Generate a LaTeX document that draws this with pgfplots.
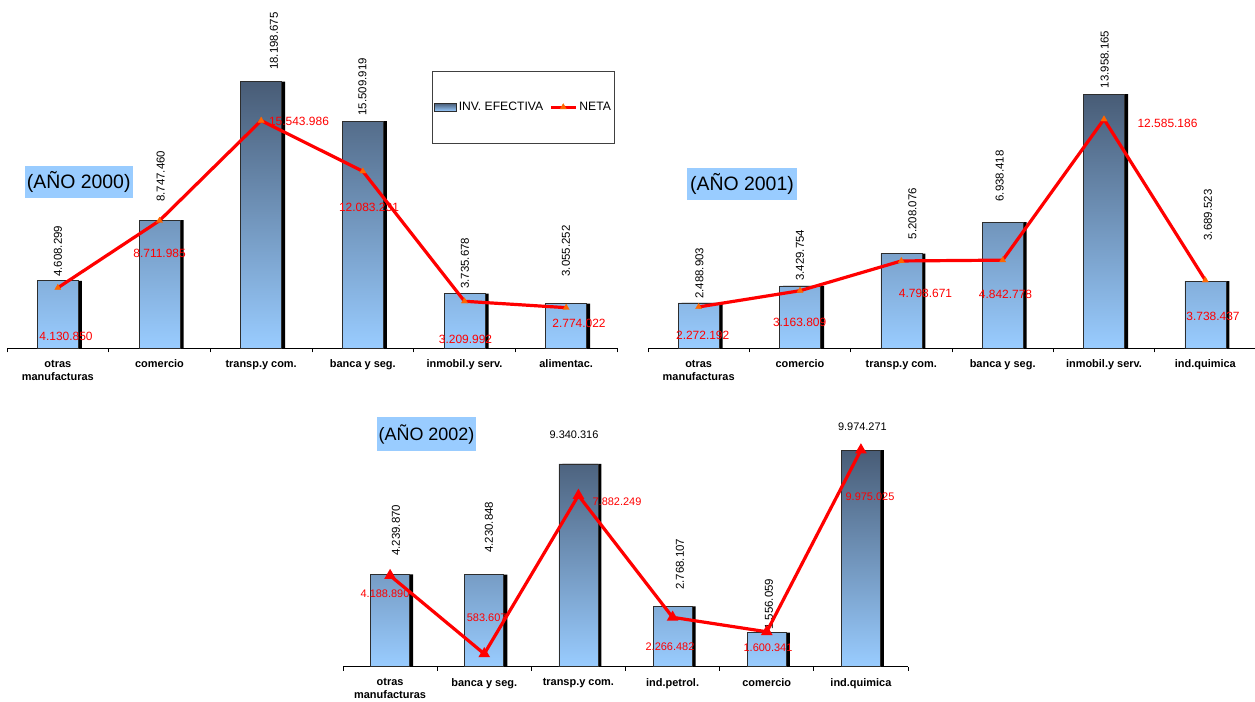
\documentclass[border=0pt]{standalone}
\usepackage{pgfplots}
\pgfplotsset{compat=1.18}
\usepackage{fontspec}
\setmainfont{Liberation Sans}

\definecolor{bartop}{RGB}{72,92,118}
\definecolor{barbot}{RGB}{153,204,255}
\definecolor{barline}{RGB}{45,45,45}
\definecolor{yearblue}{RGB}{153,204,255}
\definecolor{neta}{RGB}{255,0,0}
\definecolor{mk}{RGB}{255,102,0}

\pgfplotsset{
  panel/.style={
    scale only axis, clip=false, enlargelimits=false,
    xmin=-0.5, xmax=5.5, ymin=0,
    axis x line*=bottom, axis y line=none,
    axis line style={black, line width=1.2bp},
    tick align=outside,
    xtick={0,...,5}, major tick length=0pt,
    extra x ticks={-0.5,0.5,1.5,2.5,3.5,4.5,5.5}, extra x tick labels={},
    extra x tick style={major tick length=4bp, tick style={black, line width=0.9bp}},
    xticklabel style={font=\fontsize{11}{13}\selectfont\bfseries, align=center, anchor=north, inner sep=0pt, yshift=-11.5bp},
    ytick=\empty,
  },
  shadowbar/.style={ybar, bar width=#1, bar shift=3.5bp, fill=black, draw=none, forget plot},
  mainbar/.style={ybar, bar width=#1, bar shift=0pt, draw=barline, line width=0.6bp, top color=bartop, bottom color=barbot, area legend},
  netline/.style={color=neta, line width=3.2bp, mark=triangle*, mark size=3.6bp, mark options={fill=mk, draw=mk, line width=0.3bp, solid}},
  barlegend/.style={legend image code/.code={\draw[top color=bartop,bottom color=barbot,draw=barline,line width=0.7bp] (0bp,-4bp) rectangle (22bp,4bp);}},
  netlegend/.style={legend image code/.code={\draw[mark repeat=2,mark phase=2,##1] plot coordinates {(0bp,0bp) (12.5bp,0bp) (25bp,0bp)};}},
}
\tikzset{
  blab/.style={rotate=90, anchor=west, inner sep=0pt, font=\fontsize{11.5}{13}\selectfont},
  hlab/.style={inner sep=0pt, font=\fontsize{11}{13}\selectfont},
  rlab/.style={text=neta, inner sep=0pt, font=\fontsize{12}{14}\selectfont},
}
\newcommand{\BL}[3]{\node[blab] at ([shift={({(#1-\xo)*1bp},{(\yo-#2)*1bp})}]rel axis cs:0,0) {#3};}
\newcommand{\HL}[3]{\node[hlab] at ([shift={({(#1-\xo)*1bp},{(\yo-#2)*1bp})}]rel axis cs:0,0) {#3};}
\newcommand{\RL}[3]{\node[rlab] at ([shift={({(#1-\xo)*1bp},{(\yo-#2)*1bp})}]rel axis cs:0,0) {#3};}

\begin{document}
\begin{tikzpicture}
\useasboundingbox (0,0) rectangle (1255bp,702bp);

% ---------------- 2000 ----------------
\def\xo{7}\def\yo{348.3}
\begin{axis}[panel, at={(7bp,353.7bp)}, anchor=south west,
  width=610bp, height=348.3bp, ymax=23.775e6,
  xticklabels={{otras\\manufacturas},comercio,transp.y com.,banca y seg.,inmobil.y serv.,alimentac.},
  legend columns=2,
  legend style={at={(0.696,0.797)}, anchor=north west, draw=black!75, line width=1bp,
    inner xsep=2bp, inner ysep=29bp, font=\fontsize{12.2}{14}\selectfont,
    /tikz/every even column/.append style={column sep=4bp}, cells={anchor=west}},
]
\addplot[shadowbar=41bp] coordinates {(0,4608299) (1,8747460) (2,18198675) (3,15509919) (4,3735678) (5,3055252)};
\addplot[mainbar=41bp, barlegend]
  coordinates {(0,4608299) (1,8747460) (2,18198675) (3,15509919) (4,3735678) (5,3055252)};
\addlegendentry{INV. EFECTIVA}
\RL{66}{336}{4.130.850}
\RL{159.6}{253}{8.711.985}
\RL{299}{121.7}{15.543.986}
\RL{369}{207}{12.083.231}
\RL{465.5}{339}{3.209.992}
\RL{579}{323}{2.774.022}
\BL{58}{277}{4.608.299}
\BL{160.6}{202}{8.747.460}
\BL{274}{70}{18.198.675}
\BL{362.5}{115.7}{15.509.919}
\BL{465}{289}{3.735.678}
\BL{566}{276.7}{3.055.252}
\addplot[netline, netlegend]
  coordinates {(0,4130850) (1,8711985) (2,15543986) (3,12083231) (4,3209992) (5,2774022)};
\addlegendentry{NETA}
\end{axis}

% ---------------- 2001 ----------------
\def\xo{648}\def\yo{348.3}
\begin{axis}[panel, at={(648bp,353.7bp)}, anchor=south west,
  width=608bp, height=348.3bp, ymax=19.137e6,
  xticklabels={{otras\\manufacturas},comercio,transp.y com.,banca y seg.,inmobil.y serv.,ind.quimica},
]
\addplot[shadowbar=41bp] coordinates {(0,2488903) (1,3429754) (2,5208076) (3,6938418) (4,13958165) (5,3689523)};
\addplot[mainbar=41bp] coordinates {(0,2488903) (1,3429754) (2,5208076) (3,6938418) (4,13958165) (5,3689523)};
\RL{702.7}{335}{2.272.192}
\RL{799.6}{322.7}{3.163.809}
\RL{925.5}{293.3}{4.798.671}
\RL{1005.5}{294.7}{4.842.778}
\RL{1167.5}{123}{12.585.186}
\RL{1213}{316.7}{3.738.437}
\BL{699.3}{299}{2.488.903}
\BL{800}{281}{3.429.754}
\BL{912.5}{239.3}{5.208.076}
\BL{999.6}{201.7}{6.938.418}
\BL{1104.7}{88.3}{13.958.165}
\BL{1207.8}{240.7}{3.689.523}
\addplot[netline] coordinates {(0,2272192) (1,3163809) (2,4798671) (3,4842778) (4,12585186) (5,3738437)};
\end{axis}

% ---------------- 2002 ----------------
\def\xo{343}\def\yo{666.5}
\tikzset{rlab/.append style={font=\fontsize{11}{13}\selectfont}}
\begin{axis}[panel, at={(343bp,35.5bp)}, anchor=south west,
  width=565bp, height=266.5bp, ymax=12.281e6,
  xticklabels={{otras\\manufacturas},banca y seg.,transp.y com.,ind.petrol.,comercio,ind.quimica},
]
\addplot[shadowbar=39bp] coordinates {(0,4239870) (1,4230848) (2,9340316) (3,2768107) (4,1556059) (5,9974271)};
\addplot[mainbar=39bp] coordinates {(0,4239870) (1,4230848) (2,9340316) (3,2768107) (4,1556059) (5,9974271)};
\RL{385}{594}{4.188.890}
\RL{486.7}{618}{583.607}
\RL{617}{502}{7.882.249}
\RL{670}{647}{2.266.482}
\RL{768}{648}{1.600.341}
\RL{870}{497}{9.975.025}
\BL{396}{556}{4.239.870}
\BL{489}{553}{4.230.848}
\HL{574}{435}{9.340.316}
\BL{680}{590}{2.768.107}
\BL{769}{630}{1.556.059}
\HL{862.4}{427}{9.974.271}
\addplot[netline, mark options={fill=neta, draw=neta}] coordinates {(0,4188890) (1,583607) (2,7882249) (3,2266482) (4,1600341) (5,9975025)};
\end{axis}

% year boxes
\node[fill=yearblue, minimum width=108bp, minimum height=32bp, inner sep=0pt, font=\fontsize{19.5}{22}\selectfont] at (78.7bp,520bp) {(AÑO 2000)};
\node[fill=yearblue, minimum width=110bp, minimum height=32bp, inner sep=0pt, font=\fontsize{19.5}{22}\selectfont] at (742bp,518bp) {(AÑO 2001)};
\node[fill=yearblue, minimum width=99bp, minimum height=34bp, inner sep=0pt, font=\fontsize{18}{21}\selectfont] at (426.5bp,268bp) {(AÑO 2002)};
\end{tikzpicture}
\end{document}
